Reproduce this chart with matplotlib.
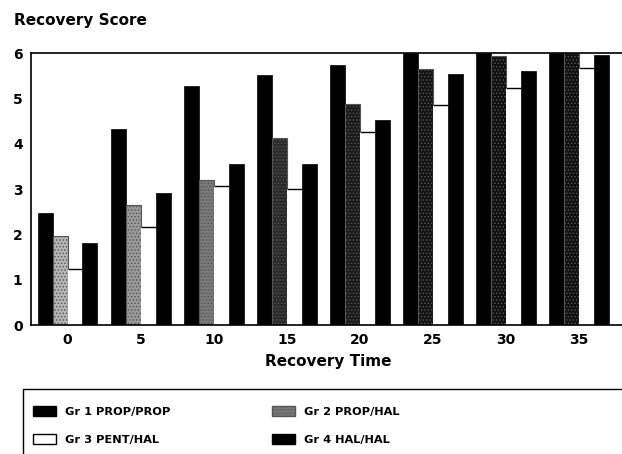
import numpy as np
import matplotlib.pyplot as plt
from matplotlib.patches import Rectangle, Patch

plt.rcParams['font.family'] = ['DejaVu Sans']
plt.rcParams['font.weight'] = 'bold'
plt.rcParams['hatch.linewidth'] = 0.6

times = [0, 5, 10, 15, 20, 25, 30, 35]
gr1 = [2.48, 4.33, 5.27, 5.52, 5.73, 6.0, 6.0, 6.0]
gr2 = [1.97, 2.66, 3.21, 4.13, 4.88, 5.64, 5.93, 6.0]
gr3 = [1.24, 2.17, 3.07, 3.00, 4.26, 4.85, 5.24, 5.68]
gr4 = [1.80, 2.92, 3.56, 3.56, 4.53, 5.53, 5.60, 5.95]
labels = ["Gr 1 PROP/PROP", "Gr 2 PROP/HAL", "Gr 3 PENT/HAL", "Gr 4 HAL/HAL"]

# stipple of group 2 gets darker over time in the original print
gr2_shades = ['#b4b4b4', '#9a9a9a', '#7a7a7a', '#2a2a2a', '#1a1a1a', '#141414', '#101010', '#101010']

fig = plt.figure(figsize=(6.22, 4.54), dpi=100)
ax = fig.add_axes([0.0498, 0.284, 0.955, 0.599])

x = np.arange(len(times))
w = 0.205
ax.bar(x - 1.5*w, gr1, w, color='black', edgecolor='black', linewidth=0.5)
ax.bar(x - 0.5*w, gr2, w, color=gr2_shades, edgecolor='#555555', linewidth=0.8, hatch='.....')
ax.bar(x + 0.5*w, gr3, w, color='white', edgecolor='none')
ax.hlines(gr3, x + 0.5*w - w/2, x + 0.5*w + w/2, color='black', linewidth=1.0)
ax.bar(x + 1.5*w, gr4, w, color='black', edgecolor='black', linewidth=0.5)

ax.set_xlim(-0.5, 7.63)
ax.set_ylim(0, 6)
ax.set_xticks(x)
ax.set_xticklabels(times)
ax.set_yticks(range(7))
ax.tick_params(length=0, labelsize=10, pad=6)
for s in ['left', 'bottom', 'top']:
    ax.spines[s].set_linewidth(1.2)
ax.spines['right'].set_visible(False)
ax.set_xlabel("Recovery Time", fontsize=11, fontweight='bold', labelpad=5)
fig.text(0.022, 0.945, "Recovery Score", fontsize=11, fontweight='bold')

# legend box, runs off the bottom and right of the page like the scan
fig.patches.append(Rectangle((0.037, -0.05), 1.1, 0.193, transform=fig.transFigure,
                             facecolor='none', edgecolor='black', linewidth=1.0, clip_on=False))
handles = [Patch(facecolor='black', edgecolor='black'),
           Patch(facecolor='white', edgecolor='black'),
           Patch(facecolor='#777777', edgecolor='#555555', hatch='.....'),
           Patch(facecolor='black', edgecolor='black')]
fig.legend(handles, [labels[0], labels[2], labels[1], labels[3]], ncol=2,
           loc='upper left', bbox_to_anchor=(0.037, 0.128), frameon=False,
           fontsize=8.2, handlelength=2.0, handleheight=0.95, columnspacing=8.95,
           labelspacing=1.5, handletextpad=0.78)

plt.savefig("out.png", dpi=100)
